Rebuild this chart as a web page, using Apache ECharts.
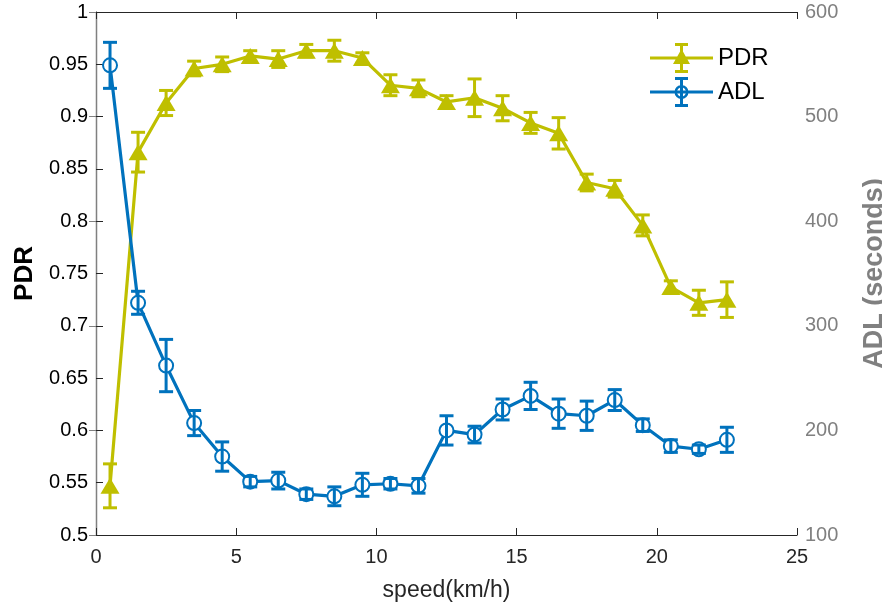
<!DOCTYPE html>
<html>
<head>
<meta charset="utf-8">
<script src="https://cdn.jsdelivr.net/npm/echarts@6/dist/echarts.min.js"></script>
<style>html,body{margin:0;padding:0;background:#fff;overflow:hidden;width:882px;height:606px;}#c{width:882px;height:606px;display:block;}</style>
</head>
<body>
<div id="c"></div>
<script>
const speed = [0.5,1.5,2.5,3.5,4.5,5.5,6.5,7.5,8.5,9.5,10.5,11.5,12.5,13.5,14.5,15.5,16.5,17.5,18.5,19.5,20.5,21.5,22.5];
const pdr = [0.547,0.866,0.913,0.946,0.950,0.958,0.955,0.963,0.963,0.956,0.930,0.927,0.914,0.918,0.908,0.894,0.884,0.837,0.831,0.796,0.737,0.722,0.725];
const pdrErr = [0.021,0.019,0.012,0.007,0.007,0.005,0.008,0.006,0.010,0.005,0.010,0.008,0.006,0.018,0.012,0.010,0.015,0.008,0.008,0.010,0.006,0.012,0.017];
const adl = [549,322,262,207,175,151,152,139,137,148,149,147,200,196,220,233,216,214,229,205,185,182,191];
const adlErr = [22,11,25,12,14,5,8,5,9,11,5,7,14,8,10,13,14,14,10,6,6,4,12];
const xTicks = [0,5,10,15,20,25];

const C_PDR = '#BFBF00', C_ADL = '#0072BD', C_GRAY = '#808080', C_AX = '#262626';

const pdrLine = speed.map((x,i)=>[x,pdr[i]]);
const adlLine = speed.map((x,i)=>[x,adl[i]]);
const pdrBars = speed.map((x,i)=>[x,pdr[i]-pdrErr[i],pdr[i]+pdrErr[i]]);
const adlBars = speed.map((x,i)=>[x,adl[i]-adlErr[i],adl[i]+adlErr[i]]);

function errRender(color){
  return function(params, api){
    const x = api.value(0);
    const lo = api.coord([x, api.value(1)]);
    const hi = api.coord([x, api.value(2)]);
    const hw = 7;
    const st = {stroke: color, lineWidth: 3};
    return {type:'group', children:[
      {type:'line', shape:{x1:lo[0],y1:lo[1],x2:hi[0],y2:hi[1]}, style:st},
      {type:'line', shape:{x1:lo[0]-hw,y1:lo[1],x2:lo[0]+hw,y2:lo[1]}, style:st},
      {type:'line', shape:{x1:hi[0]-hw,y1:hi[1],x2:hi[0]+hw,y2:hi[1]}, style:st}
    ]};
  };
}

function rect(x,y,w,h){return 'M'+x+','+y+'H'+(x+w)+'V'+(y+h)+'H'+x+'Z';}
const baseIcon = rect(0,13.5,63,3) + rect(30,2,3,26) + rect(25,0,13,3) + rect(25,27,13,3);
const pdrIcon = 'path://' + baseIcon + 'M31.5,6L40,21L23,21Z';
const adlIcon = 'path://' + baseIcon +
  'M24.5,15A7,7 0 1 1 38.5,15A7,7 0 1 1 24.5,15Z' +
  'M27,15A4.5,4.5 0 1 0 36,15A4.5,4.5 0 1 0 27,15Z';

const font = 'Liberation Sans, Arial, Helvetica, sans-serif';

const chart = echarts.init(document.getElementById('c'), null, {width:882, height:606});
chart.setOption({
  backgroundColor:'#fff',
  animation:false,
  textStyle:{fontFamily:font},
  grid:{left:96,right:85,top:12,bottom:71,containLabel:false,outerBoundsMode:'none'},
  legend:{
    orient:'vertical', left:645, top:38, itemWidth:63, itemHeight:30, itemGap:4,
    textStyle:{fontSize:24, color:'#000', fontFamily:font},
    data:[
      {name:'PDR', icon:pdrIcon, itemStyle:{color:C_PDR, borderWidth:0}},
      {name:'ADL', icon:adlIcon, itemStyle:{color:C_ADL, borderWidth:0}}
    ]
  },
  xAxis:[{
    type:'value', min:0, max:25, interval:5, position:'bottom',
    name:'speed(km/h)', nameLocation:'middle', nameGap:44,
    nameTextStyle:{fontSize:23, color:C_AX, fontFamily:font},
    axisLine:{lineStyle:{color:C_AX, width:1.2}},
    axisTick:{inside:true, length:7, lineStyle:{color:C_AX}},
    axisLabel:{fontSize:20, color:C_AX, margin:12, fontFamily:font},
    splitLine:{show:false}
  },{
    type:'value', min:0, max:25, interval:5, position:'top',
    axisLine:{onZero:false, lineStyle:{color:C_AX, width:1.2}},
    axisTick:{inside:true, length:7, lineStyle:{color:C_AX}},
    axisLabel:{show:false}, splitLine:{show:false}
  }],
  yAxis:[{
    type:'value', min:0.5, max:1, interval:0.05, position:'left',
    name:'PDR', nameLocation:'middle', nameGap:56, nameRotate:90,
    nameTextStyle:{fontSize:26, fontWeight:'bold', color:'#000', fontFamily:font},
    axisLine:{show:true, lineStyle:{color:C_AX, width:1.2}},
    axisTick:{show:true, inside:true, length:7, lineStyle:{color:C_AX}},
    axisLabel:{fontSize:20, color:'#000', margin:8, fontFamily:font},
    splitLine:{show:false}
  },{
    type:'value', min:100, max:600, interval:100, position:'right',
    name:'ADL (seconds)', nameLocation:'middle', nameGap:64, nameRotate:90,
    nameTextStyle:{fontSize:27, fontWeight:'bold', color:C_GRAY, fontFamily:font},
    axisLine:{show:true, lineStyle:{color:C_GRAY, width:1.2}},
    axisTick:{show:true, inside:true, length:7, lineStyle:{color:C_GRAY}},
    axisLabel:{fontSize:20, color:C_GRAY, margin:8, fontFamily:font},
    splitLine:{show:false}
  }],
  series:[
    {name:'PDR', type:'line', xAxisIndex:0, yAxisIndex:0, data:pdrLine,
     symbol:'triangle', symbolSize:[19,16], lineStyle:{color:C_PDR, width:3.2},
     itemStyle:{color:C_PDR}, z:3},
    {name:'PDR', type:'custom', xAxisIndex:0, yAxisIndex:0, data:pdrBars,
     renderItem:errRender(C_PDR), encode:{x:0, y:[1,2]}, z:4},
    {name:'ADL', type:'line', xAxisIndex:0, yAxisIndex:1, data:adlLine,
     symbol:'emptyCircle', symbolSize:14, lineStyle:{color:C_ADL, width:3.2},
     itemStyle:{color:C_ADL, borderWidth:3}, z:5},
    {name:'ADL', type:'custom', xAxisIndex:0, yAxisIndex:1, data:adlBars,
     renderItem:errRender(C_ADL), encode:{x:0, y:[1,2]}, z:6}
  ]
});
</script>
</body>
</html>
